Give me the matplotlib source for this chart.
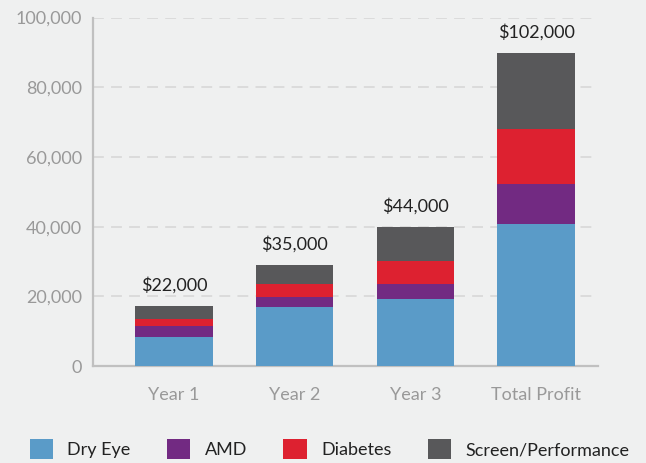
import matplotlib.pyplot as plt
import numpy as np

categories = ['Year 1', 'Year 2', 'Year 3', 'Total Profit']
dry_eye = [8350, 16800, 19100, 40700]
amd = [3000, 3100, 4550, 11400]
diabetes = [2200, 3700, 6350, 15950]
screen = [3800, 5400, 9900, 21650]
totals = ['$22,000', '$35,000', '$44,000', '$102,000']
yticks = [0, 20000, 40000, 60000, 80000, 100000]

series = [('Dry Eye', dry_eye, '#5a9bc8'),
          ('AMD', amd, '#722a82'),
          ('Diabetes', diabetes, '#dd2130'),
          ('Screen/Performance', screen, '#58585a')]

plt.rcParams['font.family'] = ['Lato', 'DejaVu Sans']
bg = '#eff0f0'

fig = plt.figure(figsize=(6.46, 4.63), dpi=100, facecolor=bg)
ax = fig.add_axes([0.144, 0.2095, 0.782, 0.7525], facecolor=bg)

x = np.arange(len(categories))
bottom = np.zeros(len(categories))
for name, vals, col in series:
    ax.bar(x, vals, 0.64, bottom=bottom, color=col, label=name, zorder=3)
    bottom += np.array(vals)

for xi, top, lab in zip(x, bottom, totals):
    ax.annotate(lab, (xi, top), xytext=(0, 15), textcoords='offset points',
                ha='center', va='center', fontsize=13, color='#222222')

ax.set_xlim(-0.672, 3.515)
ax.set_ylim(0, 100000)
ax.set_xticks(x)
ax.set_xticklabels(categories)
ax.set_yticks(yticks)
ax.set_yticklabels([f'{v:,}' for v in yticks])
ax.tick_params(axis='both', length=0, labelsize=13, labelcolor='#999999')
ax.tick_params(axis='x', pad=15)
ax.tick_params(axis='y', pad=8)

for v in yticks[1:]:
    ax.axhline(v, color='#d9d9d9', lw=1.3, ls=(0, (6, 4)), zorder=1)

for s in ['top', 'right']:
    ax.spines[s].set_visible(False)
for s in ['left', 'bottom']:
    ax.spines[s].set_color('#c0c0c0')
    ax.spines[s].set_linewidth(1.6)

fig.legend(loc='lower left', bbox_to_anchor=(0.021, -0.026), ncol=4,
           frameon=False, fontsize=13, handlelength=1.28, handleheight=1.28,
           handletextpad=0.8, columnspacing=2.02, labelcolor='#222222')

fig.savefig('out.png', dpi=100, facecolor=bg)
